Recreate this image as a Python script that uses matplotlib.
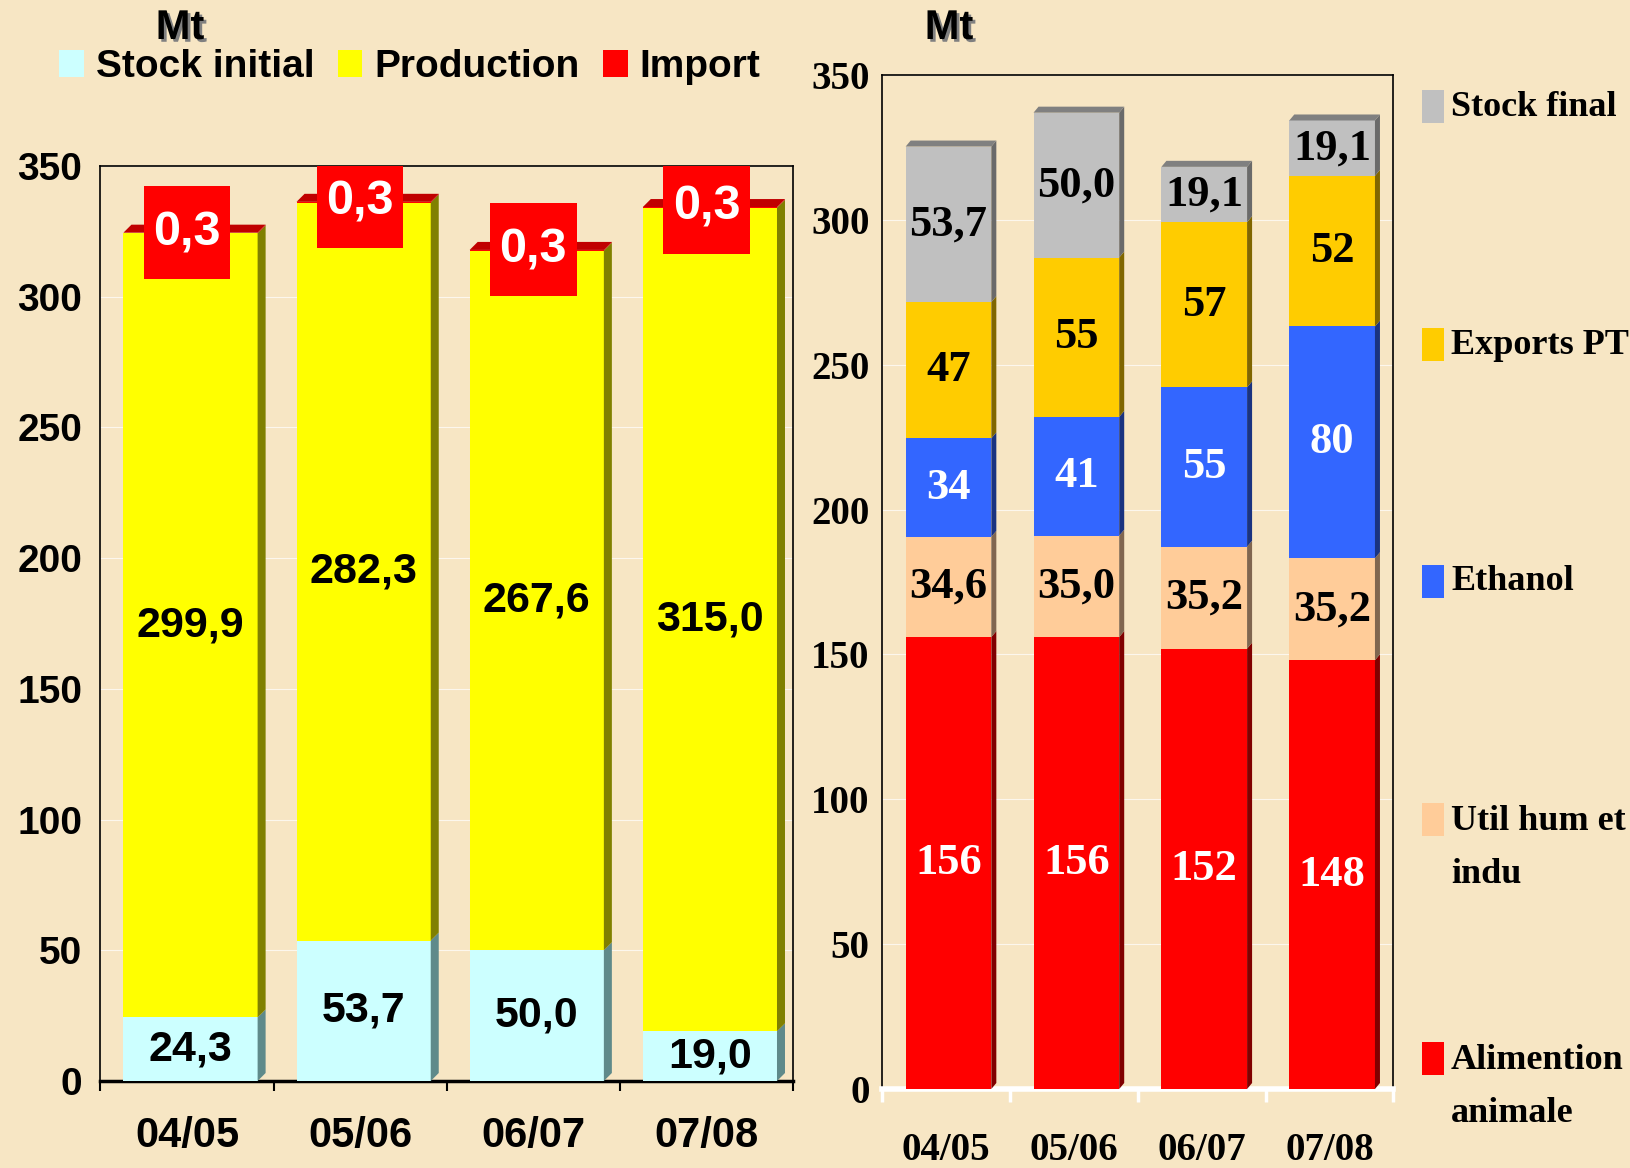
import matplotlib.pyplot as plt
import matplotlib.patheffects as pe
from matplotlib.patches import Polygon, Rectangle, Patch
from matplotlib.font_manager import FontProperties

W, H = 1631, 1168
FOND = '#F7E6C4'

campagnes = ['04/05', '05/06', '06/07', '07/08']

# ressources (graphique de gauche)
stock_initial = [24.3, 53.7, 50.0, 19.0]
production = [299.9, 282.3, 267.6, 315.0]
importations = [0.3, 0.3, 0.3, 0.3]

# emplois (graphique de droite)
alim_animale = [156, 156, 152, 148]
util_hum = [34.6, 35.0, 35.2, 35.2]
ethanol = [34, 41, 55, 80]
exports_pt = [47, 55, 57, 52]
stock_final = [53.7, 50.0, 19.1, 19.1]

SANS = 'Liberation Sans'
SERIF = 'Liberation Serif'
DECAL = 0.02  # les barres sont un peu decalees a droite du centre


def fr(v, dec):
    return f"{v:.{dec}f}".replace('.', ',')


def barres_3d(ax, series, largeur, dx_px, dy_px, px_x, px_y, dessus, police, fs):
    # barres empilees avec un faux effet 3D (cote + dessus)
    dx = dx_px / px_x
    dy = dy_px / px_y
    x = [i + DECAL for i in range(len(campagnes))]
    bas = [0.0] * len(campagnes)
    for nom, vals, face, cote, coul_txt, dec in series:
        ax.bar(x, vals, largeur, bottom=bas, color=face, zorder=3, linewidth=0)
        for i, v in enumerate(vals):
            xr = x[i] + largeur / 2
            b, t = bas[i], bas[i] + v
            ax.add_patch(Polygon([(xr, b), (xr + dx, b + dy), (xr + dx, t + dy), (xr, t)],
                                 closed=True, facecolor=cote, edgecolor='none', zorder=3))
            if coul_txt is not None:
                ax.text(x[i], b + v / 2, fr(v, dec), ha='center', va='center', color=coul_txt,
                        fontsize=fs, family=police, weight='bold', zorder=5)
        bas = [b + v for b, v in zip(bas, vals)]
    for i, t in enumerate(bas):
        xl, xr = x[i] - largeur / 2, x[i] + largeur / 2
        ax.add_patch(Polygon([(xl, t), (xl + dx, t + dy), (xr + dx, t + dy), (xr, t)],
                             closed=True, facecolor=dessus, edgecolor='none', zorder=3))
    return bas


fig = plt.figure(figsize=(W / 100, H / 100), dpi=100)
fig.patch.set_facecolor(FOND)

# ---------------- graphique de gauche ----------------
axg = fig.add_axes([100.5 / W, 87 / H, 692.5 / W, 915 / H])
axg.set_facecolor('none')
axg.set_xlim(-0.5, 3.5)
axg.set_ylim(0, 350)

series_g = [
    ('Stock initial', stock_initial, '#CCFFFF', '#5F8A8A', 'black', 1),
    ('Production', production, '#FFFF00', '#808000', 'black', 1),
    ('Import', importations, '#FF0000', '#C00000', None, 1),
]
totaux_g = barres_3d(axg, series_g, 0.775, 8, 8, 173, 915 / 350, '#C00000', SANS, 31)

# etiquettes "0,3" dans des cadres rouges au sommet
for i, t in enumerate(totaux_g):
    axg.add_patch(Rectangle((i - 0.25, t - 17.8), 0.5, 35.6, facecolor='#FF0000',
                            edgecolor='none', zorder=4))
    axg.text(i, t, fr(importations[i], 1), ha='center', va='center', color='white',
             fontsize=35, family=SANS, weight='bold', zorder=5)

axg.set_yticks(range(0, 351, 50))
axg.set_xticks(range(4))
axg.set_xticklabels(campagnes)
axg.set_xticks([-0.5, 0.5, 1.5, 2.5, 3.5], minor=True)
axg.tick_params(axis='x', which='major', length=0, pad=25)
axg.tick_params(axis='x', which='minor', length=7, width=1.5, color='black', direction='out')
axg.tick_params(axis='y', length=0, pad=13)
for lab in axg.get_xticklabels():
    lab.set_fontproperties(FontProperties(family=SANS, weight='bold', size=30))
for lab in axg.get_yticklabels():
    lab.set_fontproperties(FontProperties(family=SANS, weight='bold', size=28))
axg.yaxis.grid(True, color='white', linewidth=0.8, alpha=0.7)
axg.set_axisbelow(True)
for s in axg.spines.values():
    s.set_color('black')
    s.set_linewidth(1.2)
axg.spines['bottom'].set_linewidth(2.5)

fig.legend(handles=[Patch(facecolor=c, edgecolor='none') for _, _, c, _, _, _ in series_g],
           labels=[n for n, *_ in series_g], loc='center left',
           bbox_to_anchor=(59 / W, 1 - 67 / H), ncol=3, frameon=False, borderpad=0,
           borderaxespad=0, handlelength=0.64, handleheight=0.67, handletextpad=0.3,
           columnspacing=0.6, prop=FontProperties(family=SANS, weight='bold', size=28))

ombre = [pe.SimplePatchShadow(offset=(2, -2), shadow_rgbFace='#808080', alpha=1.0), pe.Normal()]
fig.text(180 / W, 1 - 28 / H, 'Mt', ha='center', va='center', fontsize=30, family=SANS,
         weight='bold', path_effects=ombre)
fig.text(949 / W, 1 - 28 / H, 'Mt', ha='center', va='center', fontsize=30, family=SANS,
         weight='bold', path_effects=ombre)

# ---------------- graphique de droite ----------------
axd = fig.add_axes([882 / W, 79 / H, 511.5 / W, 1014 / H])
axd.set_facecolor('none')
axd.set_xlim(-0.5, 3.5)
axd.set_ylim(0, 350)

series_d = [
    ('Alimention\nanimale', alim_animale, '#FF0000', '#800000', 'white', 0),
    ('Util hum et\nindu', util_hum, '#FFCC99', '#806650', 'black', 1),
    ('Ethanol', ethanol, '#3366FF', '#1A3380', 'white', 0),
    ('Exports PT', exports_pt, '#FFCC00', '#806600', 'black', 0),
    ('Stock final', stock_final, '#C0C0C0', '#6A6A6A', 'black', 1),
]
barres_3d(axd, series_d, 0.67, 5, 6, 127.9, 1014 / 350, '#808080', SERIF, 32)

axd.set_yticks(range(0, 351, 50))
axd.set_xticks(range(4))
axd.set_xticklabels(campagnes)
axd.set_xticks([-0.5, 0.5, 1.5, 2.5, 3.5], minor=True)
axd.tick_params(axis='x', which='major', length=0, pad=31)
axd.tick_params(axis='x', which='minor', length=9, width=2.5, color='white', direction='out')
axd.tick_params(axis='y', length=0, pad=9)
for lab in axd.get_xticklabels():
    lab.set_fontproperties(FontProperties(family=SERIF, weight='bold', size=28))
for lab in axd.get_yticklabels():
    lab.set_fontproperties(FontProperties(family=SERIF, weight='bold', size=28))
axd.yaxis.grid(True, color='white', linewidth=0.8, alpha=0.7)
axd.set_axisbelow(True)
for s in axd.spines.values():
    s.set_color('black')
    s.set_linewidth(1.2)
axd.spines['bottom'].set_color('white')
axd.spines['bottom'].set_linewidth(4)

# legende verticale de droite
y_leg = [1059, 820, 582, 345, 107]
for (nom, _, face, _, _, _), y in zip(series_d, y_leg):
    fig.add_artist(Rectangle((1422 / W, 1 - (y + 16) / H), 22 / W, 33 / H,
                             facecolor=face, edgecolor='none', transform=fig.transFigure))
    nl = nom.count('\n')
    fig.text(1451 / W, 1 - (y + nl * 28) / H, nom, ha='left', va='center', fontsize=26,
             family=SERIF, weight='bold', linespacing=1.8)

fig.savefig('out.png', dpi=100, facecolor=FOND)
